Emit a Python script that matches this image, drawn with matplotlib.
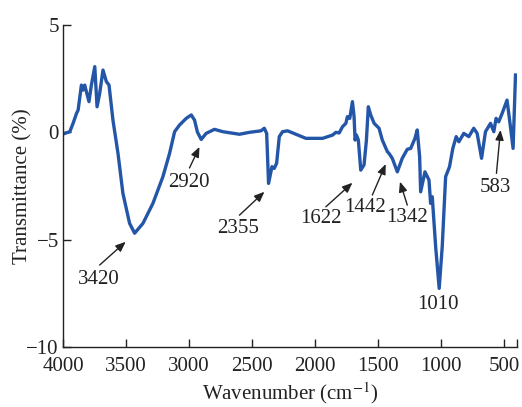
import numpy as np
import matplotlib
matplotlib.use('Agg')
import matplotlib.pyplot as plt

plt.rcParams['font.family'] = ['Liberation Serif', 'DejaVu Serif']
plt.rcParams['mathtext.fontset'] = 'stix'

# FTIR spectrum (wavenumber in cm-1, transmittance in %)
wavenumber = [4000, 3946, 3920, 3893, 3880, 3854, 3841, 3828, 3794, 3775,
              3748, 3730, 3709, 3683, 3656, 3635, 3604, 3564, 3525, 3472,
              3432, 3366, 3287, 3208, 3155, 3115, 3076, 3023, 2983, 2957,
              2934, 2904, 2865, 2799, 2733, 2601, 2522, 2430, 2404, 2385,
              2370, 2343, 2325, 2306, 2285, 2259, 2219, 2153, 2074, 1942,
              1863, 1836, 1810, 1784, 1757, 1745, 1726, 1705, 1692, 1684,
              1673, 1658, 1639, 1613, 1594, 1579, 1560, 1533, 1494, 1468,
              1428, 1415, 1389, 1349, 1310, 1270, 1243, 1209, 1191, 1172,
              1164, 1130, 1098, 1085, 1072, 1045, 1017, 993, 966, 935,
              909, 882, 861, 822, 782, 743, 716, 681, 650, 610,
              584, 566, 545, 518, 479, 452, 431, 412]
transmittance = [-0.08, 0.03, 0.42, 0.88, 1.04, 2.20, 1.97, 2.20, 1.43, 2.20,
                 3.06, 1.19, 1.82, 2.90, 2.36, 2.20, 0.57, -0.98, -2.84, -4.24,
                 -4.70, -4.24, -3.31, -2.07, -0.98, 0.03, 0.34, 0.65, 0.81, 0.57,
                 0.01, -0.33, -0.05, 0.14, 0.03, -0.09, 0.00, 0.07, 0.19, -0.05,
                 -2.38, -1.60, -1.68, -1.44, -0.20, 0.03, 0.07, -0.09, -0.28, -0.28,
                 -0.13, 0.00, -0.03, 0.26, 0.42, 0.73, 0.65, 1.43, 0.73, -0.36,
                 -0.13, -0.36, -1.76, -1.52, -0.36, 1.19, 0.81, 0.42, 0.19, -0.36,
                 -0.90, -0.98, -1.21, -1.84, -1.21, -0.79, -0.75, -0.28, 0.11, -1.14,
                 -2.77, -1.84, -2.22, -3.31, -3.00, -5.33, -7.27, -5.33, -2.07, -1.60,
                 -0.75, -0.20, -0.44, -0.05, -0.20, 0.19, -0.05, -1.21, 0.03, 0.42,
                 0.03, 0.65, 0.49, 0.88, 1.50, 0.26, -0.75, 2.67]

# peak labels: text, text position, arrow tail, arrow tip (None = no arrow)
peak_labels = ['3420', '2920', '2355', '1622', '1442', '1342', '1010', '583']
label_xy = [(3716, -6.84), (3004, -2.36), (2608, -4.46), (1953, -4.00),
            (1605, -3.48), (1272, -3.95), (1024, -8.04), (571, -2.57)]
arrow_tail = [(3709, -6.18), (2997, -1.66), (2601, -3.86), (1916, -3.47),
              (1547, -2.92), (1270, -3.39), None, (563, -1.91)]
arrow_tip = [(3503, -5.10), (2918, -0.68), (2403, -2.77), (1705, -2.35),
             (1441, -1.48), (1328, -2.30), None, (531, 0.11)]

fig = plt.figure(figsize=(5.22, 4.07), dpi=100)
ax = fig.add_axes([63 / 522, 1 - 347 / 407, 454 / 522, 322 / 407])

ax.plot(wavenumber, transmittance, color='#2456a8', lw=2.4,
        solid_joinstyle='round')

for lab, xy, tail, tip in zip(peak_labels, label_xy, arrow_tail, arrow_tip):
    ax.text(xy[0], xy[1], lab, ha='center', va='center', fontsize=15,
            color='#222222')
    if tail is not None:
        ax.annotate('', xy=tip, xytext=tail,
                    arrowprops=dict(arrowstyle='-|>,head_length=0.6,head_width=0.25',
                                    color='#222222', lw=1.0,
                                    shrinkA=0, shrinkB=0))

ax.set_xlim(4000, 400)
ax.set_ylim(-10, 5)
ax.set_xticks([4000, 3500, 3000, 2500, 2000, 1500, 1000, 500])
ax.set_xticks([400], minor=True)
ax.set_yticks([-10, -5, 0, 5])
ax.set_yticklabels(['\u221210', '\u22125', '0', '5'])

ax.tick_params(axis='both', which='both', direction='in', length=6,
               width=1.0, labelsize=15, colors='#222222')
ax.tick_params(axis='x', pad=7)
ax.tick_params(axis='y', pad=3)

for side in ['top', 'right']:
    ax.spines[side].set_visible(False)
for side in ['left', 'bottom']:
    ax.spines[side].set_linewidth(1.0)
    ax.spines[side].set_color('#222222')

ax.set_xlabel('Wavenumber (cm$^{-1}$)', fontsize=15, color='#222222',
              labelpad=3)
ax.set_ylabel('Transmittance (%)', fontsize=15, color='#222222')
ax.yaxis.set_label_coords(-0.068, 0.5)

fig.savefig('out.png', dpi=100)
